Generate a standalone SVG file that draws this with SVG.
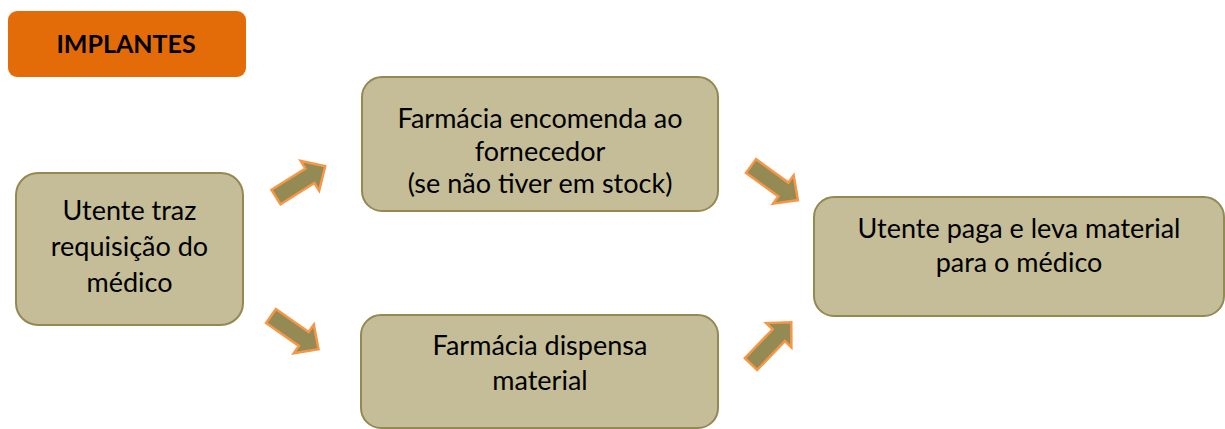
<svg xmlns="http://www.w3.org/2000/svg" width="1225" height="429" viewBox="0 0 1225 429">
<defs>
<style>
.box{fill:#c4bd97;stroke:#938953;stroke-width:2}
.t{font-family:Lato,"Open Sans","DejaVu Sans",sans-serif;font-size:27px;fill:#000;text-anchor:middle}
.arr{fill:#948a54;stroke:#f79646;stroke-width:2.5;stroke-linejoin:miter}
</style>
<polygon id="arrowShape" points="0,-8.5 40,-8.5 40,-17.5 58,0 40,17.5 40,8.5 0,8.5"/>
</defs>
<rect width="1225" height="429" fill="#fff"/>
<g id="header">
<rect x="8" y="11" width="238" height="66" rx="9" fill="#e36c09"/>
<text x="126" y="53" font-family="Lato,'Open Sans',sans-serif" font-size="25" font-weight="bold" text-anchor="middle" fill="#000">IMPLANTES</text>
</g>
<g id="connectors">
<use href="#arrowShape" class="arr" transform="translate(276,197) rotate(-32)"/>
<use href="#arrowShape" class="arr" transform="translate(271,316) rotate(35)"/>
<use href="#arrowShape" class="arr" transform="translate(751,166) rotate(36)"/>
<use href="#arrowShape" class="arr" transform="translate(751,364) rotate(-46)"/>
</g>
<g id="node1">
<rect class="box" x="16" y="173" width="227" height="152" rx="22"/>
<text class="t" x="129.5" y="220">Utente traz</text>
<text class="t" x="129.5" y="256">requisição do</text>
<text class="t" x="129.5" y="292">médico</text>
</g>
<g id="node2">
<rect class="box" x="362" y="77" width="356" height="134" rx="20"/>
<text class="t" x="540" y="128">Farmácia encomenda ao</text>
<text class="t" x="540" y="161">fornecedor</text>
<text class="t" x="540" y="193">(se não tiver em stock)</text>
</g>
<g id="node3">
<rect class="box" x="361" y="315" width="357" height="113" rx="20"/>
<text class="t" x="540" y="355">Farmácia dispensa</text>
<text class="t" x="540" y="390">material</text>
</g>
<g id="node4">
<rect class="box" x="814" y="197" width="410" height="119" rx="20"/>
<text class="t" x="1019" y="238">Utente paga e leva material</text>
<text class="t" x="1019" y="272">para o médico</text>
</g>
</svg>
